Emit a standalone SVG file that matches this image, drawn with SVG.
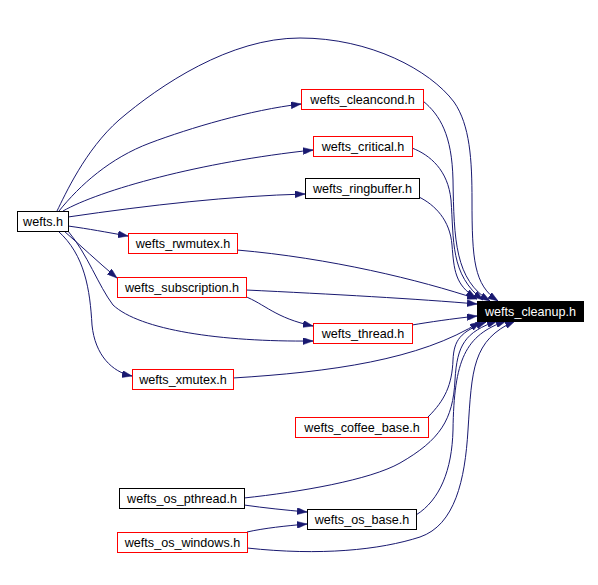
<svg xmlns="http://www.w3.org/2000/svg" width="598" height="585" viewBox="0 0 598 585">
<style>
.n rect{fill:#fff;stroke:#000;stroke-width:1}
.n.r rect{stroke:#f00}
.n text{font-family:"Liberation Sans",Arial,sans-serif;font-size:12.6px;fill:#000;text-anchor:middle}
.n.k rect{fill:#000;stroke:#000}
.n.k text{fill:#fff}
.e path{fill:none;stroke:#191970;stroke-width:1;marker-end:url(#a)}
</style>
<defs>
<marker id="a" viewBox="0 0 10 7" refX="10" refY="3.5" markerWidth="10" markerHeight="7" markerUnits="userSpaceOnUse" orient="auto">
<path d="M0,0 L10,3.5 L0,7 z" fill="#191970" stroke="#191970" stroke-width="0.5"/>
</marker>
</defs>
<rect width="598" height="585" fill="#fff"/>
<g class="e" id="edges">
<path d="M57,211 C65,195 85,150 119,120 C160,85 230,38 300,38 C370,38 430,70 454,102 C470,125 472,160 472,200 C472,260 474,285 498,301"/>
<path d="M59,211 C80,185 110,158 150,143 C190,128 250,110 301,104"/>
<path d="M63,211 C100,190 200,162 313,150"/>
<path d="M68,217 C150,205 230,196 305,194"/>
<path d="M68,226 C90,229 105,232 128,236"/>
<path d="M64,231 C80,245 98,262 117,278"/>
<path d="M68,231 C88,255 98,285 113,305 C140,330 220,342 313,341"/>
<path d="M58,231 C85,255 90,290 92,325 C95,355 112,372 132,376"/>
<path d="M423,101 C440,115 452,135 453,180 C454,240 455,280 490,301"/>
<path d="M412,148 C430,155 448,170 451,200 C454,240 450,275 483,300"/>
<path d="M419,197 C435,205 450,220 452,245 C454,270 455,285 476,298"/>
<path d="M237,250 C330,258 420,280 477,299"/>
<path d="M246,290 C330,294 420,299 477,304"/>
<path d="M244,296 C265,304 275,318 313,326"/>
<path d="M412,325 C430,322 450,319 477,316"/>
<path d="M233,378 C330,372 420,360 480,322"/>
<path d="M428,417 C445,400 452,385 453,360 C454,340 460,332 486,322"/>
<path d="M244,498 C300,492 370,480 400,463 C440,440 453,420 455,380 C457,345 465,332 497,321"/>
<path d="M244,505 C265,508 285,510 307,512"/>
<path d="M247,532 C265,528 285,526 307,524"/>
<path d="M416,515 C440,500 452,470 453,430 C454,360 465,335 506,321"/>
<path d="M247,548 C320,556 380,550 420,537 C455,525 465,480 468,430 C472,370 472,340 515,321"/>
</g>
<g class="n" id="wefts_h"><rect x="17.5" y="211.5" width="51" height="20"/><text x="43" y="226">wefts.h</text></g>
<g class="n r" id="wefts_cleancond_h"><rect x="301.5" y="89.5" width="122" height="20"/><text x="362.5" y="104">wefts_cleancond.h</text></g>
<g class="n r" id="wefts_critical_h"><rect x="313.5" y="136.5" width="99" height="20"/><text x="363" y="151">wefts_critical.h</text></g>
<g class="n" id="wefts_ringbuffer_h"><rect x="305.5" y="178.5" width="114" height="20"/><text x="362.5" y="193">wefts_ringbuffer.h</text></g>
<g class="n k" id="wefts_cleanup_h"><rect x="477.5" y="301.5" width="106" height="20"/><text x="530.5" y="316">wefts_cleanup.h</text></g>
<g class="n r" id="wefts_rwmutex_h"><rect x="128.5" y="233.5" width="109" height="20"/><text x="183" y="248">wefts_rwmutex.h</text></g>
<g class="n r" id="wefts_subscription_h"><rect x="117.5" y="277.5" width="129" height="20"/><text x="182" y="292">wefts_subscription.h</text></g>
<g class="n r" id="wefts_thread_h"><rect x="313.5" y="323.5" width="99" height="20"/><text x="363" y="338">wefts_thread.h</text></g>
<g class="n r" id="wefts_xmutex_h"><rect x="132.5" y="369.5" width="101" height="20"/><text x="183" y="384">wefts_xmutex.h</text></g>
<g class="n r" id="wefts_coffee_base_h"><rect x="295.5" y="417.5" width="133" height="20"/><text x="362" y="432">wefts_coffee_base.h</text></g>
<g class="n" id="wefts_os_pthread_h"><rect x="119.5" y="488.5" width="125" height="20"/><text x="182" y="503">wefts_os_pthread.h</text></g>
<g class="n" id="wefts_os_base_h"><rect x="307.5" y="509.5" width="109" height="20"/><text x="362" y="524">wefts_os_base.h</text></g>
<g class="n r" id="wefts_os_windows_h"><rect x="117.5" y="532.5" width="130" height="20"/><text x="182.5" y="547">wefts_os_windows.h</text></g>
</svg>
